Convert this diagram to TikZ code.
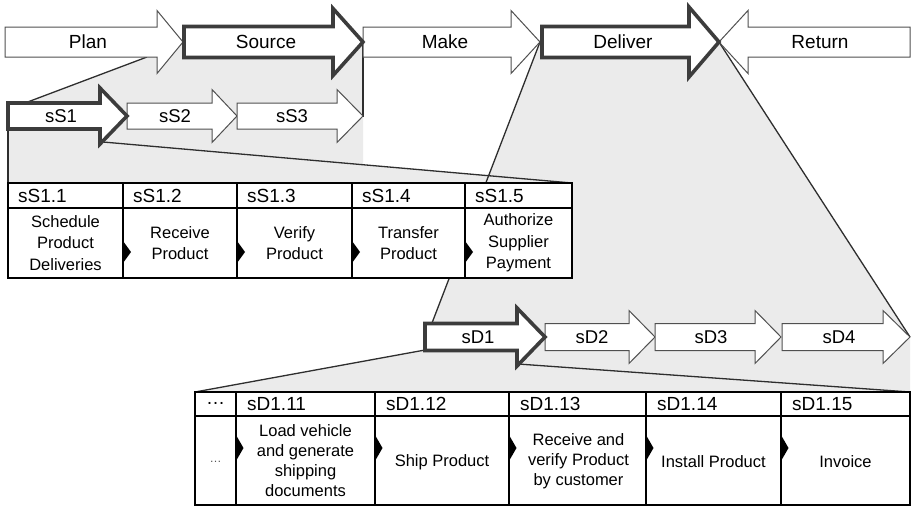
\documentclass[tikz,border=0pt]{standalone}
\usepackage{fontspec}
\setmainfont{Liberation Sans}
\definecolor{fgray}{HTML}{EBEBEB}
\definecolor{agray}{HTML}{505050}
\definecolor{tgray}{HTML}{3C3C3C}
\definecolor{lgray}{HTML}{2E2E2E}
\definecolor{dotgray}{HTML}{555555}
% #1 style, #2 x0, #3 x1 (head base), #4 x2 (tip), #5 y mid, #6 body half height, #7 head half height
\newcommand{\procarrow}[7]{%
  \path[#1] (#2,{#5-#6}) -- (#3,{#5-#6}) -- (#3,{#5-#7}) -- (#4,#5) -- (#3,{#5+#7}) -- (#3,{#5+#6}) -- (#2,{#5+#6}) -- cycle;}
\begin{document}
\begin{tikzpicture}[x=1pt,y=-1pt,
  thinarrow/.style={draw=agray,line width=1pt,fill=white,line join=miter},
  thickarrow/.style={draw=tgray,line width=3.6pt,fill=white,line join=miter,miter limit=10},
  funnel/.style={fill=fgray,draw=none},
  funnelline/.style={draw=lgray,line width=1.3pt},
  tbl/.style={draw=black,line width=1.1pt,fill=white},
  toplabel/.style={font=\fontsize{19}{22}\selectfont,inner sep=0pt},
  sublabel/.style={font=\fontsize{18.5}{22}\selectfont,inner sep=0pt},
  headlabel/.style={font=\fontsize{19}{22}\selectfont,inner sep=0pt,anchor=west},
  celltext/.style={font=\fontsize{16.5}{21.5}\selectfont,align=center,inner sep=0pt},
  marker/.style={fill=black,draw=none}]

\useasboundingbox (0,0) rectangle (911,506);

% ---------- named coordinates of the funnel lines ----------
\coordinate (srcA) at (147,57);
\coordinate (srcB) at (25,103);
\coordinate (srcC) at (363,42);
\coordinate (srcD) at (363,117);
\coordinate (ssA) at (8,129);
\coordinate (ssB) at (8,183);
\coordinate (ssC) at (103,142);
\coordinate (ssD) at (572,183);
\coordinate (dlA) at (540,42);
\coordinate (dlB) at (432,323);
\coordinate (dlC) at (719,42);
\coordinate (dlD) at (910,337);
\coordinate (sdA) at (425,350);
\coordinate (sdB) at (195,392);
\coordinate (sdC) at (518,364);
\coordinate (sdD) at (910,392);

% ---------- grey funnels ----------
\path[funnel] (srcB) -- (srcA) -- (183,42) -- (srcC) -- (363,165) -- (ssD) -- (ssB) -- (8,103) -- cycle;
\path[funnel] (dlA) -- (dlC) -- (dlD) -- (sdD) -- (sdB) -- (sdA) -- (dlB) -- cycle;

\draw[funnelline] (srcA) -- (srcB);
\draw[funnelline] (srcC) -- (srcD);
\draw[funnelline] (ssA) -- (ssB);
\draw[funnelline] (ssC) -- (ssD);
\draw[funnelline] (dlA) -- (dlB);
\draw[funnelline] (dlC) -- (dlD);
\draw[funnelline] (sdA) -- (sdB);
\draw[funnelline] (sdC) -- (sdD);

% ---------- top level arrows ----------
\procarrow{thinarrow}{5}{157}{183}{42}{15}{31.5}
\procarrow{thinarrow}{363}{511}{540}{42}{15}{31.5}
\path[thinarrow] (910,27) -- (748,27) -- (748,10.5) -- (719,42) -- (748,73.5) -- (748,57) -- (910,57) -- cycle;
\procarrow{thickarrow}{184}{333}{363}{42}{15.5}{33.5}
\procarrow{thickarrow}{542}{689}{719}{42}{15.5}{35}
\node[toplabel] (plan) at (88,42) {Plan};
\node[toplabel] (source) at (266,42) {Source};
\node[toplabel] (make) at (445,42) {Make};
\node[toplabel] (deliver) at (623,42) {Deliver};
\node[toplabel] (return) at (820,42) {Return};

% ---------- source sub-process arrows ----------
\procarrow{thinarrow}{127}{212}{237}{116}{13}{26.5}
\procarrow{thinarrow}{237}{337}{363}{116}{13}{26.5}
\procarrow{thickarrow}{8}{100}{127}{116}{13}{28}
\node[sublabel] (ss1) at (61,116) {sS1};
\node[sublabel] (ss2) at (175,116) {sS2};
\node[sublabel] (ss3) at (292,116) {sS3};

% ---------- deliver sub-process arrows ----------
\procarrow{thinarrow}{545}{629}{655}{337}{13.5}{26.5}
\procarrow{thinarrow}{655}{755}{781}{337}{13.5}{26.5}
\procarrow{thinarrow}{782}{883}{910}{337}{13.5}{26.5}
\procarrow{thickarrow}{425}{517}{545}{337}{13.5}{29}
\node[sublabel] (sd1) at (478,337) {sD1};
\node[sublabel] (sd2) at (592,337) {sD2};
\node[sublabel] (sd3) at (711,337) {sD3};
\node[sublabel] (sd4) at (839,337) {sD4};

% ---------- sS1 table ----------
\path[tbl] (8,183) rectangle (572,278);
\draw[black,line width=1.1pt] (8,208) -- (572,208);
\foreach \x in {123,237,352,465} {
  \draw[black,line width=1.1pt] (\x,183) -- (\x,278);
  \path[marker] (\x,241) -- (\x+8,252) -- (\x,263) -- cycle;
}
\node[headlabel] (h11) at (18,196) {sS1.1};
\node[headlabel] (h12) at (133,196) {sS1.2};
\node[headlabel] (h13) at (247,196) {sS1.3};
\node[headlabel] (h14) at (362,196) {sS1.4};
\node[headlabel] (h15) at (475,196) {sS1.5};
\node[celltext] (c11) at (65.5,243) {Schedule\\Product\\Deliveries};
\node[celltext] (c12) at (180,243) {Receive\\Product};
\node[celltext] (c13) at (294.5,243) {Verify\\Product};
\node[celltext] (c14) at (408.5,243) {Transfer\\Product};
\node[celltext] (c15) at (518.5,243) {Authorize\\Supplier\\Payment};

% ---------- sD1 table ----------
\path[tbl] (195,392) rectangle (910,505);
\draw[black,line width=1.1pt] (195,416) -- (910,416);
\draw[black,line width=1.1pt] (236,392) -- (236,505);
\foreach \x in {375,509,646,781} {
  \draw[black,line width=1.1pt] (\x,392) -- (\x,505);
}
\foreach \x in {236,375,509,646,781} {
  \path[marker] (\x,435) -- (\x+7.5,448) -- (\x,461) -- cycle;
}
\node[toplabel] (hdots) at (215.5,403) {\dots};
\node[headlabel] (h111) at (247,404) {sD1.11};
\node[headlabel] (h112) at (386,404) {sD1.12};
\node[headlabel] (h113) at (520,404) {sD1.13};
\node[headlabel] (h114) at (657,404) {sD1.14};
\node[headlabel] (h115) at (792,404) {sD1.15};
\node[font=\fontsize{12}{14}\selectfont,text=dotgray,inner sep=0pt] (cdots) at (215.5,462) {\dots};
\node[celltext,font=\fontsize{16.5}{20}\selectfont] (c111) at (305.5,461) {Load vehicle\\and generate\\shipping\\documents};
\node[celltext] (c112) at (442,462) {Ship Product};
\node[celltext,font=\fontsize{16.5}{20}\selectfont] (c113) at (578.5,461) {Receive and\\verify Product\\by customer};
\node[celltext] (c114) at (713.5,462) {Install Product};
\node[celltext] (c115) at (845.5,462) {Invoice};
\end{tikzpicture}
\end{document}
